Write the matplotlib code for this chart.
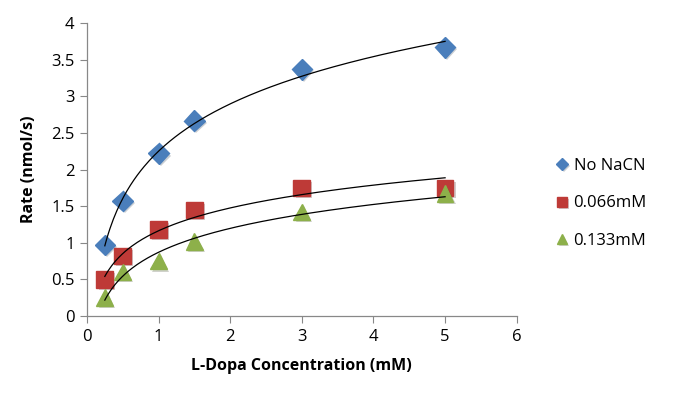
import numpy as np
import matplotlib
matplotlib.use("Agg")
import matplotlib.pyplot as plt
import matplotlib.patheffects as pe

plt.rcParams['font.family'] = ['Open Sans', 'DejaVu Sans']

# data
conc = [0.25, 0.5, 1, 1.5, 3, 5]
no_nacn = [0.97, 1.57, 2.22, 2.67, 3.37, 3.67]
nacn_066 = [0.50, 0.82, 1.18, 1.45, 1.75, 1.75]
nacn_133 = [0.25, 0.60, 0.75, 1.02, 1.42, 1.67]

labels = ['No NaCN', '0.066mM', '0.133mM']
colors = ['#4A7EBB', '#BE3A37', '#8DB04A']
markers = ['D', 's', '^']
msizes = [10.5, 12, 12]

fig = plt.figure(figsize=(6.79, 3.99), dpi=100)
ax = fig.add_axes([0.128, 0.208, 0.633, 0.734])

shadow = [pe.SimplePatchShadow(offset=(1.5, -1.5), alpha=0.22), pe.Normal()]

xs = np.array(conc)
xfit = np.linspace(xs.min(), xs.max(), 200)
for ys, lab, c, m, ms in zip([no_nacn, nacn_066, nacn_133], labels, colors, markers, msizes):
    # excel-style logarithmic trendline
    a, b = np.polyfit(np.log(xs), np.array(ys), 1)
    ax.plot(xfit, a * np.log(xfit) + b, color='black', lw=0.9, zorder=3)
    ax.plot(conc, ys, linestyle='none', marker=m, ms=ms, color=c, mec=c,
            label=lab, zorder=2, path_effects=shadow)

ax.set_xlim(0, 6)
ax.set_ylim(0, 4)
ax.set_xticks(range(0, 7))
ax.set_yticks(np.arange(0, 4.01, 0.5))
ax.set_yticklabels(['0', '0.5', '1', '1.5', '2', '2.5', '3', '3.5', '4'])
for s in ['top', 'right']:
    ax.spines[s].set_visible(False)
for s in ['left', 'bottom']:
    ax.spines[s].set_color('#888888')
    ax.spines[s].set_linewidth(0.9)
ax.tick_params(direction='out', length=5, color='#888888', labelsize=12, pad=4)

ax.set_xlabel('L-Dopa Concentration (mM)', fontsize=11.5, fontweight='bold', labelpad=10)
ax.set_ylabel('Rate (nmol/s)', fontsize=11.5, fontweight='bold', labelpad=10)

handles, labs = ax.get_legend_handles_labels()
leg = fig.legend(handles, labs, loc='center left', bbox_to_anchor=(0.798, 0.49),
                 frameon=False, fontsize=12, markerscale=0.6, handlelength=0.6,
                 handletextpad=0.4, labelspacing=1.3)

fig.savefig('out.png', dpi=100)
